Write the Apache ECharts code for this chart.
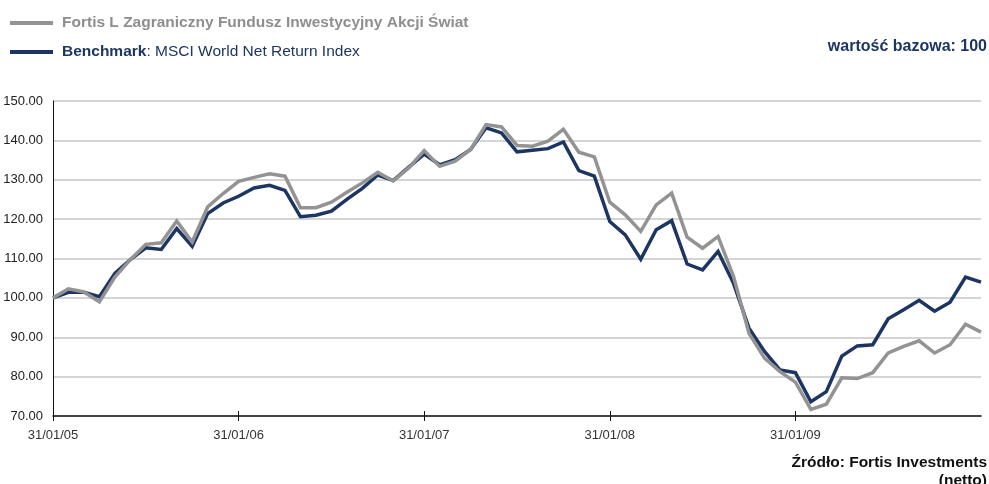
<!DOCTYPE html>
<html>
<head>
<meta charset="utf-8">
<title>Fortis L Zagraniczny Fundusz Inwestycyjny Akcji Świat</title>
<script src="https://cdn.jsdelivr.net/npm/echarts@6/dist/echarts.min.js"></script>
<style>
  html, body { margin: 0; padding: 0; background: #fff; }
  #chart { width: 989px; height: 484px; }
</style>
</head>
<body>
<div id="chart"></div>
<script>
// miesięczne daty (koniec miesiąca), 31/01/05 - 31/01/10
const dates = [
  '31/01/05', '28/02/05', '31/03/05', '30/04/05', '31/05/05', '30/06/05', '31/07/05', '31/08/05', '30/09/05', '31/10/05', '30/11/05', '31/12/05',
  '31/01/06', '28/02/06', '31/03/06', '30/04/06', '31/05/06', '30/06/06', '31/07/06', '31/08/06', '30/09/06', '31/10/06', '30/11/06', '31/12/06',
  '31/01/07', '28/02/07', '31/03/07', '30/04/07', '31/05/07', '30/06/07', '31/07/07', '31/08/07', '30/09/07', '31/10/07', '30/11/07', '31/12/07',
  '31/01/08', '29/02/08', '31/03/08', '30/04/08', '31/05/08', '30/06/08', '31/07/08', '31/08/08', '30/09/08', '31/10/08', '30/11/08', '31/12/08',
  '31/01/09', '28/02/09', '31/03/09', '30/04/09', '31/05/09', '30/06/09', '31/07/09', '31/08/09', '30/09/09', '31/10/09', '30/11/09', '31/12/09',
  '31/01/10'
]

// Fortis L Zagraniczny Fundusz Inwestycyjny Akcji Świat (wartość bazowa 100)
const fundValues = [
  100.0, 102.3, 101.5, 99.0, 105.3, 109.7, 113.6, 114.0, 119.5, 114.2, 123.1, 126.5,
  129.6, 130.6, 131.5, 130.9, 122.9, 122.9, 124.3, 126.8, 129.2, 131.9, 129.7, 133.0,
  137.4, 133.4, 134.7, 137.7, 144.0, 143.4, 138.7, 138.5, 139.8, 142.8, 137.0, 135.8,
  124.3, 121.1, 116.9, 123.6, 126.6, 115.4, 112.6, 115.6, 105.4, 91.0, 84.7, 81.3,
  78.6, 71.7, 73.0, 79.7, 79.5, 81.0, 86.0, 87.7, 89.1, 86.0, 88.1, 93.3,
  91.3
]

// Benchmark: MSCI World Net Return Index
const benchmarkValues = [
  100.0, 101.4, 101.4, 100.3, 106.2, 109.7, 112.7, 112.3, 117.6, 113.1, 121.4, 124.1,
  125.8, 127.9, 128.6, 127.3, 120.6, 121.0, 122.0, 125.0, 127.8, 131.2, 129.8, 133.2,
  136.5, 133.8, 135.1, 137.7, 143.2, 141.9, 137.1, 137.5, 137.9, 139.6, 132.3, 130.9,
  119.4, 116.0, 109.8, 117.3, 119.6, 108.6, 107.1, 111.8, 103.7, 92.3, 86.4, 81.7,
  81.0, 73.6, 76.2, 85.2, 87.8, 88.1, 94.7, 97.0, 99.4, 96.6, 98.9, 105.3,
  104.0
]

const fundName = 'Fortis L Zagraniczny Fundusz Inwestycyjny Akcji Świat'
const benchName = 'Benchmark'

const GRAY = '#939393'
const NAVY = '#1c3562'
const FONT = 'Liberation Sans, Arial, Helvetica, sans-serif'

// etykieta i znacznik co 12 miesięcy (styczeń), bez ostatniego punktu
const yearly = idx => idx % 12 === 0 && idx < dates.length - 1

const chart = echarts.init(document.getElementById('chart'))

chart.setOption({
  animation: false,
  textStyle: { fontFamily: FONT },
  grid: {
    left: 53,
    right: 8,
    top: 101,
    bottom: 68,
    outerBoundsMode: 'none'
  },
  legend: {
    orient: 'vertical',
    left: 10,
    top: 14,
    padding: 0,
    itemWidth: 43,
    itemHeight: 4,
    itemGap: 11,
    icon: 'rect',
    selectedMode: false,
    data: [fundName, benchName],
    formatter: name => {
      if (name === benchName) return '{b|Benchmark}{n|: MSCI World Net Return Index}'
      return '{g|' + name + '}'
    },
    textStyle: {
      padding: [0, 0, 0, 4],
      lineHeight: 18,
      rich: {
        g: { fontFamily: FONT, fontSize: 15.5, fontWeight: 'bold', color: '#8e8e8e' },
        b: { fontFamily: FONT, fontSize: 15.5, fontWeight: 'bold', color: NAVY },
        n: { fontFamily: FONT, fontSize: 15.5, color: NAVY }
      }
    }
  },
  graphic: [
    {
      type: 'text',
      x: 987,
      y: 39,
      style: {
        text: 'wartość bazowa: 100',
        font: 'bold 16px ' + FONT,
        fill: NAVY,
        align: 'right'
      }
    },
    {
      type: 'text',
      x: 987,
      y: 454,
      style: {
        text: 'Źródło: Fortis Investments\n(netto)',
        font: 'bold 15.5px ' + FONT,
        fill: '#111',
        align: 'right',
        lineHeight: 18
      }
    }
  ],
  xAxis: [
    {
      type: 'category',
      data: dates,
      boundaryGap: false,
      position: 'bottom',
      axisLine: { lineStyle: { color: '#111', width: 1.5 } },
      axisTick: {
        interval: yearly,
        length: 5,
        lineStyle: { color: '#111', width: 1 }
      },
      axisLabel: {
        interval: yearly,
        margin: 13,
        fontSize: 13,
        color: '#333',
        fontFamily: FONT
      },
      splitLine: { show: false }
    },
    {
      // znaczniki skierowane do góry (po drugiej stronie osi)
      type: 'category',
      data: dates,
      boundaryGap: false,
      position: 'bottom',
      offset: 0,
      axisLine: { show: false },
      axisTick: {
        inside: true,
        interval: yearly,
        length: 5,
        lineStyle: { color: '#111', width: 1 }
      },
      axisLabel: { show: false },
      splitLine: { show: false }
    }
  ],
  yAxis: {
    type: 'value',
    min: 70,
    max: 150,
    interval: 10,
    axisLine: { show: true, lineStyle: { color: '#111', width: 1 } },
    axisTick: { show: false },
    axisLabel: {
      formatter: v => v.toFixed(2),
      margin: 10,
      fontSize: 13,
      color: '#222',
      fontFamily: FONT
    },
    splitLine: { lineStyle: { color: '#c6c6c6', width: 1.5 } }
  },
  series: [
    {
      name: benchName,
      type: 'line',
      data: benchmarkValues,
      showSymbol: false,
      symbol: 'none',
      lineStyle: { color: NAVY, width: 3.5, join: 'miter' },
      itemStyle: { color: NAVY },
      z: 2
    },
    {
      name: fundName,
      type: 'line',
      data: fundValues,
      showSymbol: false,
      symbol: 'none',
      lineStyle: { color: GRAY, width: 3.5, join: 'miter' },
      itemStyle: { color: GRAY },
      z: 3
    }
  ]
})
</script>
</body>
</html>
